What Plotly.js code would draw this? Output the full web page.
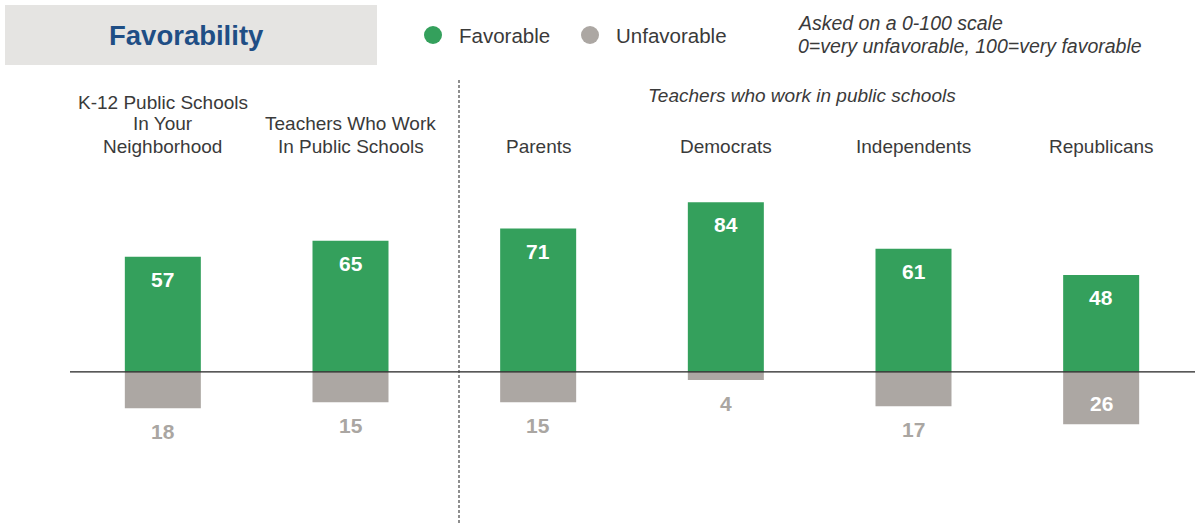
<!DOCTYPE html>
<html>
<head>
<meta charset="utf-8">
<script src="https://cdn.plot.ly/plotly-3.0.1.min.js"></script>
<style>
  html, body { margin: 0; padding: 0; background: #ffffff; }
  #chart { width: 1195px; height: 523px; }
</style>
</head>
<body>
<div id="chart"></div>
<script>
// ---- data ----
const categories = [
  "K-12 Public Schools<br>In Your<br>Neighborhood",
  "Teachers Who Work<br>In Public Schools",
  "Parents",
  "Democrats",
  "Independents",
  "Republicans"
];
const favorable = [57, 65, 71, 84, 61, 48];
const unfavorable = [18, 15, 15, 4, 17, 26];
const seriesNames = ["Favorable", "Unfavorable"];
const chartTitle = "Favorability";
const noteLines = ["Asked on a 0-100 scale", "0=very unfavorable, 100=very favorable"];
const groupLabel = "Teachers who work in public schools";

// ---- style ----
const GREEN = "#34a05c";
const GREY = "#aca7a3";
const LABEL_GREY = "#aaa6a2";
const TEXT = "#3a3a3a";
const FONT = "Liberation Sans, Arial, sans-serif";

const W = 1195, H = 523;
const M = {l: 69, r: 0, t: 170, b: 30};
const plotW = W - M.l - M.r, plotH = H - M.t - M.b;
const px = x => (x - M.l) / plotW;
const py = y => (H - M.b - y) / plotH;

const unfavNeg = unfavorable.map(v => -v);

const traces = [
  {type: "bar", name: seriesNames[0], x: categories, y: favorable,
   marker: {color: GREEN}, width: 0.405, hoverinfo: "skip", showlegend: false},
  {type: "bar", name: seriesNames[1], x: categories, y: unfavNeg,
   marker: {color: GREY}, width: 0.405, hoverinfo: "skip", showlegend: false}
];

const annotations = [];
// category labels (one annotation per line, bottom line aligned)
categories.forEach(c => {
  const lines = c.split("<br>");
  lines.forEach((ln, k) => {
    const yc = 146 - 22 * (lines.length - 1 - k);
    annotations.push({x: c, xref: "x", y: py(yc), yref: "paper", yanchor: "middle",
      text: ln, showarrow: false, align: "center",
      font: {family: FONT, size: 19, color: TEXT}});
  });
});
// favorable value labels
favorable.forEach((v, i) => {
  annotations.push({x: categories[i], xref: "x", y: v, yref: "y", yanchor: "top", yshift: -9,
    text: "<b>" + v + "</b>", showarrow: false,
    font: {family: FONT, size: 21, color: "#ffffff"}});
});
// unfavorable value labels
unfavorable.forEach((v, i) => {
  const inside = v >= 20;
  annotations.push({x: categories[i], xref: "x", y: -v, yref: "y",
    yanchor: inside ? "bottom" : "top", yshift: inside ? 7 : -10,
    text: "<b>" + v + "</b>", showarrow: false,
    font: {family: FONT, size: 21, color: inside ? "#ffffff" : LABEL_GREY}});
});
// title
annotations.push({x: px(186), xref: "paper", y: py(35), yref: "paper", xanchor: "center", yanchor: "middle",
  text: "<b>" + chartTitle + "</b>", showarrow: false,
  font: {family: FONT, size: 27.5, color: "#1f4e85"}});
// legend texts
annotations.push({x: px(457), xref: "paper", y: py(35), yref: "paper", xanchor: "left", yanchor: "middle",
  text: seriesNames[0], showarrow: false, font: {family: FONT, size: 20.5, color: TEXT}});
annotations.push({x: px(614), xref: "paper", y: py(35), yref: "paper", xanchor: "left", yanchor: "middle",
  text: seriesNames[1], showarrow: false, font: {family: FONT, size: 20.5, color: TEXT}});
// note
noteLines.forEach((ln, k) => {
  annotations.push({x: px(796), xref: "paper", y: py(23 + 23 * k), yref: "paper", xanchor: "left", yanchor: "middle",
    text: "<i>" + ln + "</i>", showarrow: false, align: "left",
    font: {family: FONT, size: 19.5, color: TEXT}});
});
// group label
annotations.push({x: px(802), xref: "paper", y: py(95), yref: "paper", xanchor: "center", yanchor: "middle",
  text: "<i>" + groupLabel + "</i>", showarrow: false,
  font: {family: FONT, size: 19, color: TEXT}});

const shapes = [
  // title box
  {type: "rect", xref: "paper", yref: "paper", x0: px(5), x1: px(377), y0: py(65), y1: py(5),
   fillcolor: "#e5e4e2", line: {width: 0}, layer: "below"},
  // legend markers
  {type: "circle", xref: "paper", yref: "paper", x0: px(424), x1: px(442), y0: py(44), y1: py(26),
   fillcolor: GREEN, line: {width: 0}},
  {type: "circle", xref: "paper", yref: "paper", x0: px(581), x1: px(599), y0: py(44), y1: py(26),
   fillcolor: GREY, line: {width: 0}},
  // baseline
  {type: "line", xref: "paper", yref: "y", x0: px(70), x1: 1, y0: 0, y1: 0,
   line: {color: "#222222", width: 1.3}, layer: "above"},
  // dashed divider
  {type: "line", xref: "paper", yref: "paper", x0: px(459), x1: px(459), y0: py(523), y1: py(80),
   line: {color: "#444444", width: 1.2, dash: "3px,2px"}, layer: "above"}
];

const layout = {
  width: W, height: H,
  margin: M,
  paper_bgcolor: "#ffffff", plot_bgcolor: "#ffffff",
  barmode: "overlay",
  showlegend: false,
  xaxis: {type: "category", range: [-0.5, 5.5], visible: false, fixedrange: true},
  yaxis: {range: [-60, 100], visible: false, zeroline: false, showgrid: false, fixedrange: true},
  annotations: annotations,
  shapes: shapes,
  font: {family: FONT}
};

Plotly.newPlot("chart", traces, layout, {displayModeBar: false, staticPlot: true});
</script>
</body>
</html>
